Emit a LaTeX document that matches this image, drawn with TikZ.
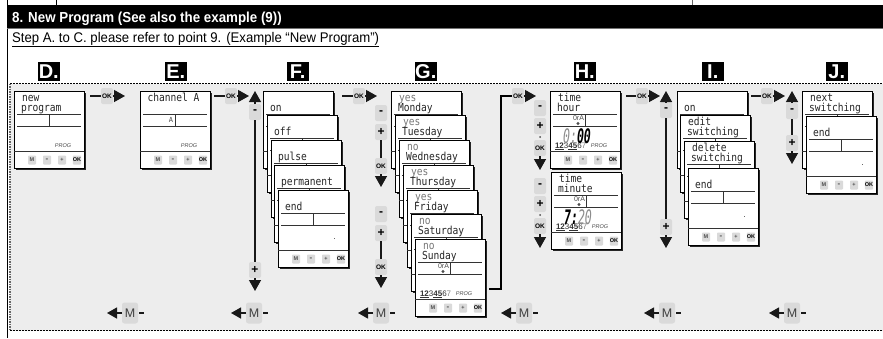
\documentclass[tikz,border=0pt]{standalone}
\usepackage{fontspec}
\setmainfont{Liberation Sans}
\newfontfamily\lcdf{DejaVu Sans Mono}
\usetikzlibrary{arrows.meta}
\definecolor{bgray}{HTML}{EDEDED}
\definecolor{btngray}{HTML}{DADADA}
\definecolor{lcdgray}{HTML}{777777}
\tikzset{
 x=1pt,y=-1pt,
 panel/.style={draw=black,line width=.8pt,fill=white,minimum width=70pt,minimum height=77pt,anchor=north west,inner sep=0,outer sep=0},
 lcdtxt/.style={anchor=base west,inner sep=0,outer sep=0,yscale=1.15,font=\lcdf\fontsize{9.6}{11}\selectfont,text=black!85},
 lcdfaint/.style={lcdtxt,text=lcdgray},
 pbtn/.style={fill=btngray,rounded corners=.8pt,minimum width=8pt,minimum height=9pt,inner sep=0,outer sep=0,font=\bfseries\fontsize{5.5}{6}\selectfont,text=black!70},
 sbtn/.style={fill=btngray,rounded corners=2pt,minimum width=12pt,minimum height=16pt,inner sep=0,outer sep=0,font=\bfseries\fontsize{12}{12}\selectfont},
 okbtn/.style={fill=btngray,rounded corners=2pt,minimum width=12pt,minimum height=16pt,inner sep=0,outer sep=0,font=\bfseries\fontsize{6.5}{7}\selectfont},
 mbtn/.style={fill=btngray,rounded corners=2.5pt,minimum width=16pt,minimum height=21pt,inner sep=0,outer sep=0,font=\fontsize{12.5}{13}\selectfont,text=black!75},
 ln/.style={line width=1.3pt,black!90},
 ar/.style={line width=1.3pt,black!90,-{Triangle[length=11pt,width=12pt]}},
 marr/.style={line width=1.3pt,black!90,-{Triangle[length=10pt,width=11pt]}},
 heading/.style={fill=black,text=white,font=\bfseries\fontsize{20}{20}\selectfont,minimum width=21.5pt,minimum height=19pt,inner sep=0,outer sep=0},
 lcdline/.style={line width=.7pt,black!80},
 lcdtiny/.style={inner sep=0,outer sep=0,font=\fontsize{7}{7}\selectfont,text=black!70},
 lcdbig/.style={anchor=base,inner sep=0,outer sep=0,xscale=.58,font=\lcdf\itshape\fontsize{20}{20}\selectfont},
}
\newcommand\lcdbox[6]{%
\begin{scope}[shift={(#2,#3)}]
\fill[black!85] (1.6,1.6) rectangle (71.6,78.6);
\node[panel] (#1) at (0,0) {};
#4
#5
\draw[lcdline] (3,23) -- (67,23);
\draw[lcdline] (3,35) -- (67,35);
\draw[lcdline] (35,23) -- (35,35);
\draw[lcdline] (0,60) -- (70,60);
\node[pbtn] (#1m) at (18,69) {M};
\node[pbtn,font=\bfseries\fontsize{8}{8}\selectfont] (#1n) at (33,69) {-};
\node[pbtn] (#1p) at (48,69) {+};
\node[pbtn,text=black] (#1o) at (63,69) {OK};
#6
\end{scope}}
\newcommand\lcdone[1]{\node[lcdtxt] at (8,10.5) {#1};}
\newcommand\lcdtwo[1]{\node[lcdtxt] at (7,20.5) {#1};}
\newcommand\lcdonef[1]{\node[lcdfaint] at (8,10.5) {#1};}
\newcommand\lcdprog{\node[lcdtiny,font=\itshape\fontsize{5.5}{6}\selectfont] at (49,55) {PROG};}
\newcommand\lcddot{\fill[black!60] (56,48) rectangle +(.8,.8);}
\newcommand\lcdstat{\node[lcdtiny] at (28.5,27.5) {0rA};\fill[black!70] (28,32.5) circle (1.6pt);}
\newcommand\lcddays{\node[anchor=base west,inner sep=0,outer sep=0,font=\fontsize{8}{8}\selectfont,text=black!80] at (5,57) {\underline{\bfseries 12}3\underline{\bfseries 45}6\textcolor{black!50}{7}};}
\newcommand\mret[2]{%
\node[mbtn] (#1) at (#2,313) {M};
\coordinate (#1a) at (#2-23,313);
\draw[marr] (#1) -- (#1a);
\draw[ln] (#1.east) ++(1,0) -- ++(5,0);}
\newcommand\okstep[4]{%
\coordinate (#1s) at (#2,96);
\node[okbtn] (#1) at (#3,96) {OK};
\coordinate (#1t) at (#4,96);
\draw[ln] (#1s) -- (#1);
\draw[ar] (#1) -- (#1t);}
\begin{document}
\begin{tikzpicture}
\useasboundingbox (0,0) rectangle (883,338);
\fill[white] (0,0) rectangle (883,338);
% head
\draw[line width=.8pt,black] (56,0) -- (56,6);
\draw[line width=.8pt,black!60] (692,0) -- (692,6);
\fill[bgray] (10,83.5) rectangle (883,330.5);
\draw[line width=.7pt,black,dash pattern=on 1.5pt off 1.5pt] (10,83.5) -- (883,83.5);
\draw[line width=.7pt,black,dash pattern=on 1.5pt off 1.5pt] (10,330.5) -- (883,330.5);
\draw[line width=1.2pt,black!60,dash pattern=on 1.5pt off 1pt] (10,83.5) -- (10,330.5);
\draw[line width=1.2pt,black] (7.5,0) -- (7.5,338);
\fill[black] (7,5) rectangle (883,28);
\draw[line width=.7pt,black!55] (7,28.3) -- (883,28.3);
\node[anchor=base west,inner sep=0,text=white,xscale=.92,font=\bfseries\fontsize{14.5}{15}\selectfont] (title) at (12,22) {8. New Program (See also the example (9))};
\node[anchor=base west,inner sep=0,xscale=.94,font=\fontsize{14}{15}\selectfont] (sub) at (12,42) {\underline{Step A. to C. please refer to point 9. (Example “New Program”)}};
% headings
\node[heading,anchor=north west] (hD) at (38,62) {D.};
\node[heading,anchor=north west] (hE) at (165,62) {E.};
\node[heading,anchor=north west] (hF) at (287,62) {F.};
\node[heading,anchor=north west] (hG) at (415,62) {G.};
\node[heading,anchor=north west] (hH) at (574,62) {H.};
\node[heading,anchor=north west] (hI) at (702,62) {I.};
\node[heading,anchor=north west] (hJ) at (826,62) {J.};
% D
\lcdbox{pD}{14}{91}{\lcdone{new}}{\lcdtwo{program}}{\lcdprog}
% E
\lcdbox{pE}{140}{91}{\node[lcdtxt] at (7.5,10.5) {channel A};}{}{\lcdprog\node[lcdtiny,font=\lcdf\fontsize{7}{8}\selectfont] at (31,29) {A};}
% F
\lcdbox{pF1}{263}{91}{}{\lcdtwo{on}}{}
\lcdbox{pF2}{267}{115}{}{\lcdtwo{off}}{}
\lcdbox{pF3}{271}{140}{}{\lcdtwo{pulse}}{}
\lcdbox{pF4}{274}{165}{}{\lcdtwo{permanent}}{}
\lcdbox{pF5}{278}{190}{}{\lcdtwo{end}}{\lcddot}
% G
\lcdbox{pG1}{391}{91}{\lcdonef{yes}}{\lcdtwo{Monday}}{}
\lcdbox{pG2}{395}{115}{\lcdonef{yes}}{\lcdtwo{Tuesday}}{}
\lcdbox{pG3}{399}{140}{\lcdonef{no}}{\lcdtwo{Wednesday}}{}
\lcdbox{pG4}{403}{165}{\lcdonef{yes}}{\lcdtwo{Thursday}}{}
\lcdbox{pG5}{407}{190}{\lcdonef{yes}}{\lcdtwo{Friday}}{}
\lcdbox{pG6}{411}{214}{\lcdonef{no}}{\lcdtwo{Saturday}}{}
\lcdbox{pG7}{415}{239}{\lcdonef{no}}{\lcdtwo{Sunday}}{\lcdstat\lcddays\lcdprog}
% H
\lcdbox{pH1}{550}{91}{\lcdone{time}}{\lcdtwo{hour}}{\lcdstat\lcddays\lcdprog
 \node[lcdbig] at (27,52) {\textcolor{black!45}{0:}\textcolor{black}{\bfseries 00}};}
\lcdbox{pH2}{551}{172}{\lcdone{time}}{\lcdtwo{minute}}{\lcdstat\lcddays\lcdprog
 \node[lcdbig] at (27,52) {\textcolor{black}{\bfseries 7:}\textcolor{black!45}{20}};}
% I
\lcdbox{pI1}{677}{91}{}{\lcdtwo{on}}{}
\lcdbox{pI2}{680}{115}{\lcdone{edit}}{\lcdtwo{switching}}{}
\lcdbox{pI3}{684}{141}{\lcdone{delete}}{\lcdtwo{switching}}{}
\lcdbox{pI4}{688}{168}{}{\lcdtwo{end}}{\lcddot}
% J
\lcdbox{pJ1}{802}{91}{\lcdone{next}}{\lcdtwo{switching}}{}
\lcdbox{pJ2}{806}{116}{}{\lcdtwo{end}}{\lcddot}
% OK steps
\okstep{ok1}{90}{107}{125}
\okstep{ok2}{214}{231}{249}
\okstep{ok3}{342}{359}{377}
\okstep{ok5}{626}{642}{660}
\okstep{ok6}{751}{767}{785}
% G to H
\coordinate (gh) at (489,289);
\coordinate (ghb) at (501,289);
\coordinate (ght) at (501,96);
\node[okbtn] (ok4) at (518,96) {OK};
\coordinate (ok4t) at (536,96);
\draw[line width=2pt,black] (gh) -- (ghb) -- (ght) -- (ok4);
\draw[ar] (ok4) -- (ok4t);
% F column
\node[sbtn] (fm) at (255,112) {-};
\node[sbtn] (fp) at (255,270) {+};
\coordinate (fu) at (255,91); \coordinate (fd) at (255,291);
\draw[ar] (fm) -- (fu); \draw[ln] (fm) -- (fp); \draw[ar] (fp) -- (fd);
% G columns
\node[sbtn] (g1m) at (381,113) {-};
\node[sbtn] (g1p) at (381,132) {+};
\node[okbtn] (g1o) at (381,166) {OK};
\coordinate (g1d) at (381,187);
\draw[ln] (g1p) -- (g1o); \draw[ar] (g1o) -- (g1d);
\node[sbtn] (g2m) at (381,214) {-};
\node[sbtn] (g2p) at (381,233) {+};
\node[okbtn] (g2o) at (381,267) {OK};
\coordinate (g2d) at (381,288);
\draw[ln] (g2p) -- (g2o); \draw[ar] (g2o) -- (g2d);
% H columns
\node[sbtn] (h1m) at (540,108) {-};
\node[sbtn] (h1p) at (540,126) {+};
\node[okbtn] (h1o) at (540,148) {OK};
\coordinate (h1d) at (540,170);
\fill[black!70] (540,137) circle (1pt);
\draw[ar] (h1o) -- (h1d);
\node[sbtn] (h2m) at (540,186) {-};
\node[sbtn] (h2p) at (540,204) {+};
\node[okbtn] (h2o) at (540,226) {OK};
\coordinate (h2d) at (540,248);
\fill[black!70] (540,215) circle (1pt);
\draw[ar] (h2o) -- (h2d);
% I column
\node[sbtn] (im) at (666,110) {-};
\node[sbtn] (ip) at (666,227) {+};
\coordinate (iu) at (666,91); \coordinate (id) at (666,248);
\draw[ar] (im) -- (iu); \draw[ln] (im) -- (ip); \draw[ar] (ip) -- (id);
% J column
\node[sbtn] (jm) at (792,111) {-};
\node[sbtn] (jp) at (792,143) {+};
\coordinate (ju) at (792,91); \coordinate (jd) at (792,164);
\draw[ar] (jm) -- (ju); \draw[ln] (jm) -- (jp); \draw[ar] (jp) -- (jd);
% M returns
\mret{m1}{130}
\mret{m2}{254}
\mret{m3}{381}
\mret{m4}{524}
\mret{m5}{667}
\mret{m6}{792}
\end{tikzpicture}
\end{document}
